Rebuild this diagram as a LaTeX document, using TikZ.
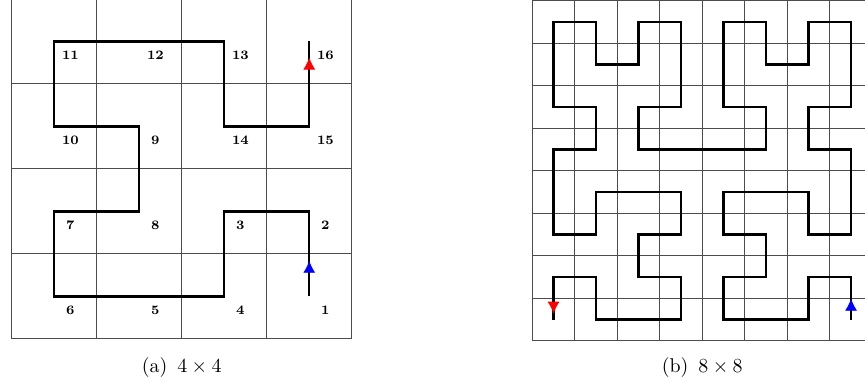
\documentclass[tikz,border=0pt]{standalone}
\usepackage{amsmath,amssymb}
\usepackage{tikz}
\usetikzlibrary{arrows.meta,calc,decorations.markings}

\begin{document}
\begin{tikzpicture}[
    x=1.5cm, y=1.5cm,
    cellgrid/.style={draw=black!70, line width=0.5pt},
    curve/.style={line width=1.2pt, line join=miter},
    num/.style={font=\fontsize{6.5}{7}\selectfont\bfseries, inner sep=0pt},
    sublabel/.style={font=\fontsize{10}{12}\selectfont},
    headat/.style 2 args={postaction={decorate}, decoration={markings,
        mark=at position #1 with {\arrow{Latex[length=6pt,width=6pt,color=#2]}}}}
]
    \useasboundingbox (0,0) rectangle (10.176,4.529);
    \clip (0,0) rectangle (10.176,4.529);

    % (a) 4x4 grid, numbered cells
    \begin{scope}[shift={(0.138,0.541)}]
        \draw[cellgrid, step=1] (0,0) grid (4,4);
        \draw[cellgrid] (0,0) rectangle (4,4);
        \foreach \n/\c/\r in {1/3/0, 2/3/1, 3/2/1, 4/2/0, 5/1/0, 6/0/0, 7/0/1, 8/1/1,
                              9/1/2, 10/0/2, 11/0/3, 12/1/3, 13/2/3, 14/2/2, 15/3/2, 16/3/3} {
            \coordinate (a\n) at (\c+0.5,\r+0.5);
            \node[num] (l\n) at (\c+0.69,\r+0.335) {\n};
        }
    \end{scope}
    \draw[curve] (a1) -- (a2) -- (a3) -- (a4) -- (a5) -- (a6) -- (a7) -- (a8)
        -- (a9) -- (a10) -- (a11) -- (a12) -- (a13) -- (a14) -- (a15) -- (a16);
    \path[headat={0.42}{blue}] (a1) -- (a2);
    \path[headat={0.81}{red}] (a15) -- (a16);
    \node[sublabel] (capa) at (2.138,0.2) {(a)\enspace$4\times4$};

    % (b) 8x8 grid
    \begin{scope}[shift={(6.262,0.52)}]
        \draw[cellgrid, step=0.5] (0,0) grid (4,4);
        \draw[cellgrid] (0,0) rectangle (4,4);
        \foreach \c in {0,...,7} {
            \foreach \r in {0,...,7} {
                \coordinate (b\c\r) at (\c*0.5+0.25,\r*0.5+0.25);
            }
        }
    \end{scope}
    \draw[curve] (b70) -- (b71) -- (b61) -- (b60) -- (b40) -- (b41) -- (b51) -- (b52)
        -- (b42) -- (b43) -- (b63) -- (b62) -- (b72) -- (b74) -- (b64) -- (b65)
        -- (b75) -- (b77) -- (b67) -- (b66) -- (b56) -- (b57) -- (b47) -- (b45)
        -- (b55) -- (b54) -- (b24) -- (b25) -- (b35) -- (b37) -- (b27) -- (b26)
        -- (b16) -- (b17) -- (b07) -- (b05) -- (b15) -- (b14) -- (b04) -- (b02)
        -- (b12) -- (b13) -- (b33) -- (b32) -- (b22) -- (b21) -- (b31) -- (b30)
        -- (b10) -- (b11) -- (b01) -- (b00);
    \path[headat={0.49}{blue}] (b70) -- (b71);
    \path[headat={0.86}{red}] (b01) -- (b00);
    \node[sublabel] (capb) at (8.262,0.2) {(b)\enspace$8\times8$};
\end{tikzpicture}
\end{document}
